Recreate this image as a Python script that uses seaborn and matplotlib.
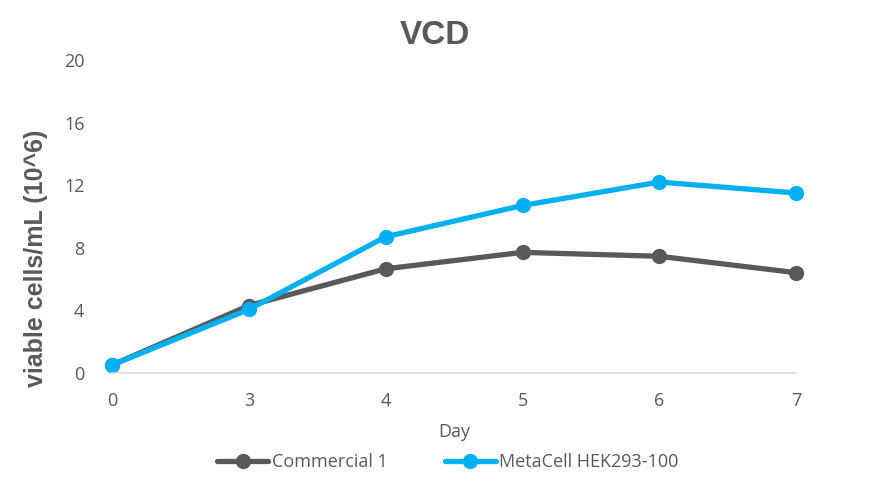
import numpy as np
import pandas as pd
import matplotlib
matplotlib.use('Agg')
import matplotlib.pyplot as plt
import seaborn as sns

days = ['0', '3', '4', '5', '6', '7']
commercial = [0.5, 4.3, 6.65, 7.7, 7.45, 6.4]
metacell = [0.5, 4.05, 8.7, 10.7, 12.2, 11.5]
series_names = ['Commercial 1', 'MetaCell HEK293-100']
colores = ['#595959', '#00B0F0']
yticks = [0, 4, 8, 12, 16, 20]

sns.set_style('white')
plt.rcParams['font.family'] = ['Open Sans', 'DejaVu Sans']

pos = np.arange(len(days))
data = pd.DataFrame({
    'pos': np.concatenate([pos, pos]),
    'vcd': commercial + metacell,
    'serie': [series_names[0]] * len(days) + [series_names[1]] * len(days),
})

fig = plt.figure(figsize=(8.7, 4.93), dpi=100)
ax = fig.add_axes([0.129, 0.244, 0.786, 0.634])

sns.lineplot(data=data, x='pos', y='vcd', hue='serie', palette=colores,
             marker='o', markersize=11, markeredgewidth=0, linewidth=3.8,
             ax=ax, legend=False)

ax.set_xlim(0, len(days) - 1)
ax.set_ylim(0, 20)
ax.set_xticks(pos)
ax.set_xticklabels(days)
ax.set_yticks(yticks)
ax.tick_params(axis='both', length=0, labelsize=13, colors='#595959')
ax.tick_params(axis='x', pad=14)
ax.tick_params(axis='y', pad=20)
for s in ['top', 'right', 'left']:
    ax.spines[s].set_visible(False)
ax.spines['bottom'].set_color('#D9D9D9')
ax.spines['bottom'].set_linewidth(1.2)
for l in ax.get_lines():
    l.set_clip_on(False)

ax.set_xlabel('Day', fontsize=13, color='#595959', labelpad=9)
ax.set_ylabel('viable cells/mL (10^6)', fontsize=18, fontweight='bold',
              color='#595959', family='Liberation Sans')
ax.yaxis.set_label_coords(-0.094, 0.367)
fig.text(0.5, 0.927, 'VCD', ha='center', va='center', fontsize=24,
         fontweight='bold', color='#595959', family='Liberation Sans')

handles = [plt.Line2D([], [], color=c, linewidth=3.8, marker='o',
                      markersize=11, markeredgewidth=0) for c in colores]
fig.legend(handles, series_names, loc='center', bbox_to_anchor=(0.515, 0.063),
           ncol=2, frameon=False, fontsize=13, handlelength=2.8,
           handletextpad=0.2, columnspacing=3.2, labelcolor='#595959')

fig.savefig('out.png', dpi=100)
